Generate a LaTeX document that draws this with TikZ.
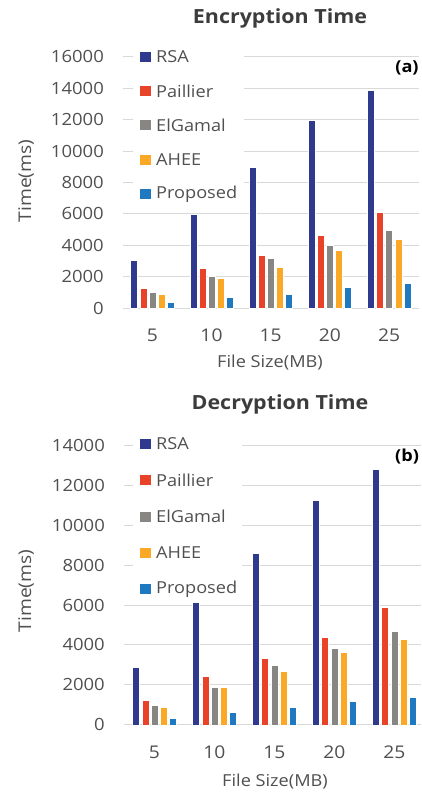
\documentclass[tikz,border=0pt]{standalone}
\usepackage{fontspec}
\setmainfont{Open Sans}[FakeStretch=1.1]
\definecolor{rsa}{RGB}{47,58,142}
\definecolor{pai}{RGB}{232,66,40}
\definecolor{elg}{RGB}{136,134,131}
\definecolor{ahee}{RGB}{250,168,38}
\definecolor{prop}{RGB}{31,121,192}
\definecolor{grid}{RGB}{217,217,217}
\definecolor{txt}{RGB}{80,80,80}
\definecolor{ttl}{RGB}{60,60,60}

% bars of one chart: #1 zero line, #2 px per 1000, #3 first group centre,
% #4 group pitch, #5 bar pitch, #6 data (group/RSA/Paillier/ElGamal/AHEE/Proposed)
\newcommand\barset[6]{%
  \foreach \g/\va/\vb/\vc/\vd/\ve in {#6} {
    \foreach \j/\v/\col in {0/\va/rsa,1/\vb/pai,2/\vc/elg,3/\vd/ahee,4/\ve/prop} {
      \path[barbox, fill=\col]
        ({#3+\g*#4+(\j-2)*#5-3.5}, #1) rectangle
        ({#3+\g*#4+(\j-2)*#5+3.5}, {#1-(\v/1000)*#2});
    }
  }%
}

\begin{document}
\begin{tikzpicture}[x=1pt, y=-1pt,
  gridline/.style={draw=grid, line width=1pt},
  barbox/.style={draw=white, line width=0.4pt},
  ticklab/.style={anchor=east, text=txt, inner sep=0pt, font=\fontsize{16.8}{17}\selectfont},
  catlab/.style={anchor=center, text=txt, inner sep=0pt, font=\fontsize{17.5}{18}\selectfont},
  axtitle/.style={text=txt, inner sep=0pt, font=\fontsize{16.5}{17}\selectfont},
  ytitle/.style={text=txt, inner sep=0pt, rotate=90, font=\fontsize{17.5}{18}\selectfont},
  charttitle/.style={text=ttl, inner sep=0pt, font=\fontsize{19.5}{20}\selectfont\bfseries},
  legtext/.style={anchor=west, text=txt, inner sep=0pt, font=\fontsize{16.5}{17}\selectfont},
  tag/.style={text=black, inner sep=0pt, font=\fontsize{16.5}{17}\selectfont\bfseries}]

\useasboundingbox (0,0) rectangle (421,793);
\fill[white] (0,0) rectangle (421,793);

% ---------------- Encryption time ----------------
\node[charttitle] (t1) at (280,18) {Encryption Time};
\foreach \i in {0,...,8} {
  \draw[gridline] (123,{308-\i*31.38}) -- (419,{308-\i*31.38});
  \pgfmathtruncatemacro\lab{\i*2000}
  \node[ticklab] (ya\i) at (104,{308-\i*31.38}) {\lab};
}
\fill[white] (133,45) rectangle (244,204);
\barset{308}{15.69}{152.3}{59.2}{9.1}{%
  0/3050/1250/1020/880/350,
  1/5950/2550/2040/1910/690,
  2/8950/3380/3170/2630/880,
  3/11950/4650/4015/3700/1300,
  4/13900/6100/4970/4380/1560}
\foreach \i/\c in {0/5,1/10,2/15,3/20,4/25}
  \node[catlab] (xa\i) at ({152.3+\i*59.2},335) {\c};
\node[axtitle] (fa) at (270,363) {File Size(MB)};
\node[ytitle] (ta) at (26,181) {Time(ms)};
\node[tag] (tga) at (407,68) {(a)};
\foreach \i/\col/\name in {0/rsa/RSA,1/pai/Paillier,2/elg/ElGamal,3/ahee/AHEE,4/prop/Proposed} {
  \fill[\col] (140,{57+\i*34.2-5}) rectangle (151,{57+\i*34.2+5});
  \node[legtext] (la\i) at (156,{57+\i*34.2}) {\name};
}

% ---------------- Decryption time ----------------
\node[charttitle] (t2) at (280,404) {Decryption Time};
\foreach \i in {0,...,7} {
  \draw[gridline] (124,{724.7-\i*39.86}) -- (421,{724.7-\i*39.86});
  \pgfmathtruncatemacro\lab{\i*2000}
  \node[ticklab] (yb\i) at (105,{724.7-\i*39.86}) {\lab};
}
\fill[white] (133,434) rectangle (242,598);
\barset{724.7}{19.93}{154.5}{59.95}{9.25}{%
  0/2910/1240/990/870/320,
  1/6150/2440/1880/1880/650,
  2/8600/3360/3010/2680/870,
  3/11270/4370/3860/3630/1155,
  4/12830/5920/4700/4270/1390}
\foreach \i/\c in {0/5,1/10,2/15,3/20,4/25}
  \node[catlab] (xb\i) at ({154.5+\i*59.95},752.5) {\c};
\node[axtitle] (fb) at (275,782) {File Size(MB)};
\node[ytitle] (tb) at (26,591) {Time(ms)};
\node[tag] (tgb) at (407,457) {(b)};
\foreach \i/\col/\name in {0/rsa/RSA,1/pai/Paillier,2/elg/ElGamal,3/ahee/AHEE,4/prop/Proposed} {
  \fill[\col] (140,{444+\i*36.3-5}) rectangle (151,{444+\i*36.3+5});
  \node[legtext] (lb\i) at (156,{444+\i*36.3}) {\name};
}
\end{tikzpicture}
\end{document}
